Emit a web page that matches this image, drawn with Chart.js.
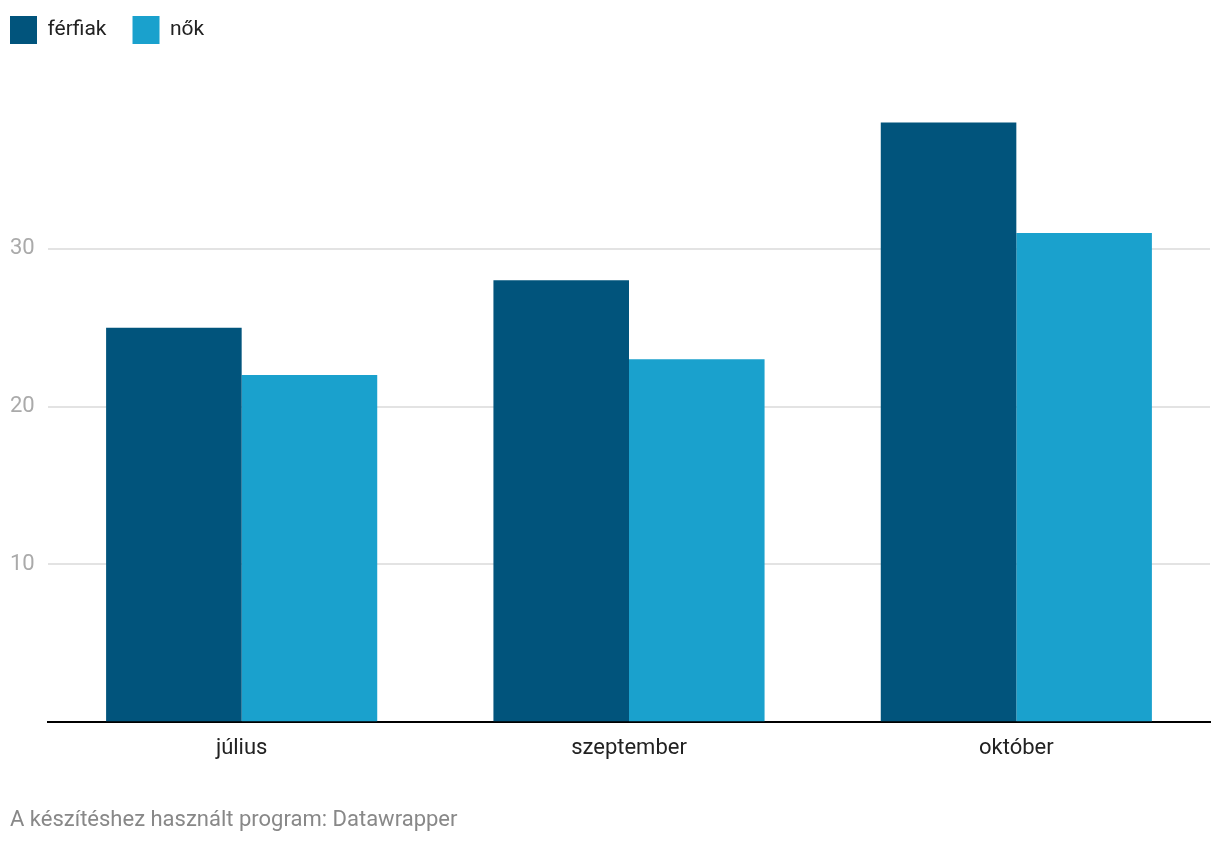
<!DOCTYPE html>
<html>
<head>
<meta charset="utf-8">
<script src="https://cdn.jsdelivr.net/npm/chart.js@4/dist/chart.umd.min.js"></script>
<style>
  html, body { margin: 0; padding: 0; background: #fff; }
  #wrap { width: 1220px; height: 844px; position: relative; }
</style>
</head>
<body>
<div id="wrap"><canvas id="chart"></canvas></div>
<script>
// adatok
const honapok = ["július", "szeptember", "október"];
const ferfiak = [25, 28, 38];
const nok = [22, 23, 31];
const yTicks = [10, 20, 30];
const forras = "A készítéshez használt program: Datawrapper";

Chart.defaults.font.family = "Roboto, 'Noto Sans', sans-serif";

// jelmagyarázat: fix magasság, balra-fel tolva
const legendSpace = {
  id: "legendSpace",
  beforeInit(chart) {
    const fit = chart.legend.fit;
    chart.legend.fit = function () {
      fit.bind(chart.legend)();
      this.height = 88;
    };
  },
  afterLayout(chart) {
    chart.legend.left -= 26;
    chart.legend.top -= 13;
  },
};

const ctx = document.getElementById("chart").getContext("2d");
const chart = new Chart(ctx, {
  type: "bar",
  data: {
    labels: honapok,
    datasets: [
      {
        label: "férfiak",
        data: ferfiak,
        backgroundColor: "#01547c",
      },
      {
        label: "nők",
        data: nok,
        backgroundColor: "#1aa1cd",
      },
    ],
  },
  plugins: [legendSpace],
  options: {
    responsive: true,
    maintainAspectRatio: false,
    animation: false,
    layout: { padding: { left: 10, right: 10, top: 3, bottom: 10 } },
    plugins: {
      legend: {
        position: "top",
        align: "start",
        labels: {
          boxWidth: 27,
          boxHeight: 28,
          padding: 26,
          color: "#222",
          font: { size: 21 },
        },
      },
      subtitle: {
        display: true,
        text: forras,
        position: "bottom",
        align: "start",
        color: "#888",
        font: { size: 22 },
        padding: { top: 41, bottom: 0 },
      },
      tooltip: { enabled: false },
    },
    datasets: {
      bar: { categoryPercentage: 0.7, barPercentage: 1.0 },
    },
    scales: {
      x: {
        grid: { display: false },
        border: { display: true, color: "#000", width: 2 },
        ticks: { color: "#222", font: { size: 22 }, padding: 5 },
      },
      y: {
        min: 0,
        max: 40,
        afterFit: (axis) => { axis.width = 38; },
        afterBuildTicks: (axis) => {
          axis.ticks = [0].concat(yTicks, [40]).map((v) => ({ value: v }));
        },
        border: { display: false },
        grid: {
          color: (c) => (yTicks.includes(c.tick.value) ? "#e3e3e3" : "rgba(0,0,0,0)"),
          lineWidth: 2,
          drawTicks: false,
        },
        ticks: {
          color: "#aaa",
          font: { size: 22 },
          crossAlign: "far",
          padding: 10,
          callback: (v) => (yTicks.includes(v) ? v : ""),
        },
      },
    },
  },
});
</script>
</body>
</html>
